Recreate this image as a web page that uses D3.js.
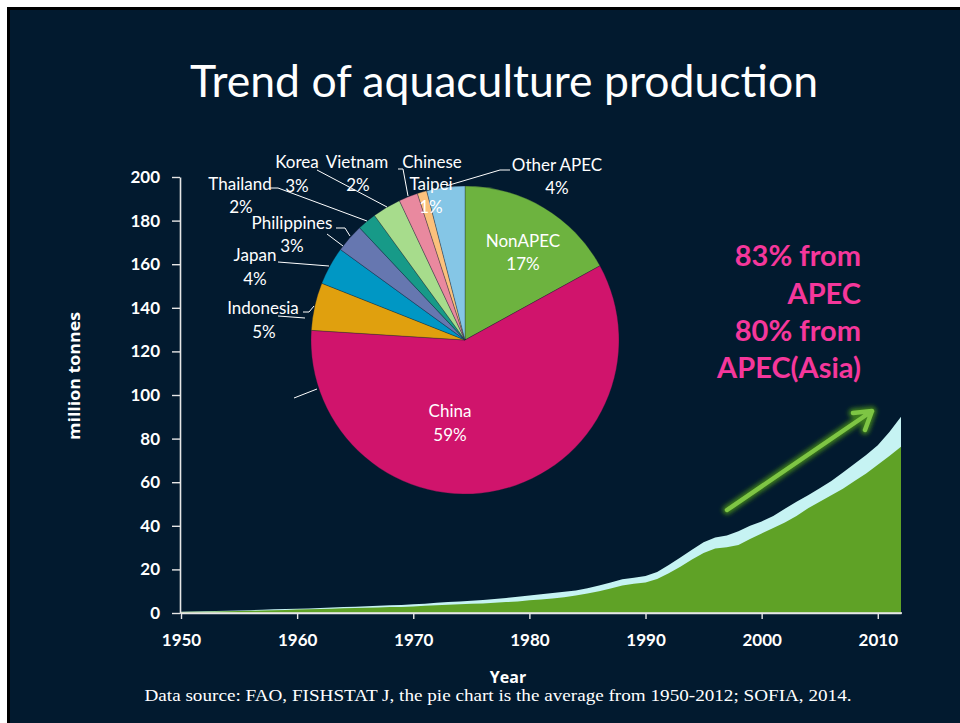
<!DOCTYPE html>
<html><head><meta charset="utf-8">
<script src="https://cdn.jsdelivr.net/npm/d3@7"></script>
<style>body{margin:0;background:#fff} svg{display:block}</style>
</head><body><svg id="c" width="960" height="723"></svg>
<script>
// ---------- DATA ----------
const years = d3.range(1950, 2013);
const totalProduction = [
  0.6, 0.7, 0.8, 0.9, 1.0, 1.2, 1.3, 1.5, 1.7, 1.85,
  2.0, 2.1, 2.3, 2.5, 2.7, 2.9, 3.1, 3.3, 3.5, 3.7,
  4.0, 4.3, 4.7, 5.0, 5.3, 5.6, 6.0, 6.4, 6.9, 7.4,
  8.0, 8.6, 9.2, 9.8, 10.3, 11.3, 12.6, 14.0, 15.5, 16.2,
  17.0, 18.8, 22.0, 25.5, 29.0, 32.5, 34.6, 35.5, 37.5, 40.0,
  42.0, 44.5, 47.8, 51.0, 54.0, 57.2, 60.5, 64.5, 68.5, 72.5,
  77.0, 83.0, 90.0
];
const apecProduction = [
  0.5, 0.55, 0.6, 0.7, 0.8, 0.9, 1.0, 1.1, 1.25, 1.4,
  1.65, 1.75, 1.85, 2.0, 2.15, 2.3, 2.45, 2.55, 2.7, 2.8,
  3.0, 3.3, 3.6, 3.8, 4.0, 4.2, 4.4, 4.7, 5.0, 5.3,
  5.8, 6.2, 6.7, 7.2, 8.0, 8.9, 10.0, 11.2, 12.6, 13.4,
  14.0, 15.6, 18.2, 21.2, 24.5, 27.5, 29.6, 30.2, 31.2, 34.0,
  36.5, 39.0, 41.5, 44.5, 48.0, 51.0, 54.0, 57.0, 60.5, 64.0,
  68.0, 72.0, 76.3
];
const yTicks = [0, 20, 40, 60, 80, 100, 120, 140, 160, 180, 200];
const xTicks = [1950, 1960, 1970, 1980, 1990, 2000, 2010];

const pieCategories = ["NonAPEC", "China", "Indonesia", "Japan", "Philippines", "Thailand", "Korea", "Vietnam", "Chinese Taipei", "Other APEC"];
const pieValues = [17, 59, 5, 4, 3, 2, 3, 2, 1, 4];
const pieColors = ["#6db33f", "#d0146c", "#e0a00e", "#0097c4", "#6677b0", "#179a88", "#a7dc8c", "#e9899f", "#fbc17c", "#85c6e6"];

const noteLines = ["83% from", "APEC", "80% from", "APEC(Asia)"];

// ---------- LAYOUT ----------
const svg = d3.select("#c");
svg.append("rect").attr("width", 960).attr("height", 723).attr("fill", "#ffffff");
svg.append("rect").attr("x", 7).attr("y", 7).attr("width", 953).attr("height", 716).attr("fill", "#000000");
svg.append("rect").attr("x", 10).attr("y", 10).attr("width", 950).attr("height", 713).attr("fill", "#021a2f");

svg.append("text").attr("x", 504).attr("y", 97).attr("text-anchor", "middle")
  .attr("font-family", "Lato, 'Open Sans', sans-serif").attr("font-size", 44)
  .attr("fill", "#ffffff").attr("textLength", 628).attr("lengthAdjust", "spacingAndGlyphs")
  .text("Trend of aquaculture production");

const x = d3.scaleLinear().domain([1950, 2012]).range([181, 901]);
const y = d3.scaleLinear().domain([0, 200]).range([613, 177]);

// areas
const totalArea = d3.area().x((d, i) => x(years[i])).y0(y(0)).y1(d => y(d));
svg.append("path").datum(totalProduction).attr("d", totalArea).attr("fill", "#c6f3f3");
svg.append("path").datum(apecProduction).attr("d", totalArea).attr("fill", "#5fa226");

// axes
const fontTick = "Lato, 'Open Sans', sans-serif";
const yAxis = svg.append("g").attr("transform", "translate(180,0)")
  .call(d3.axisLeft(y).tickValues(yTicks).tickSize(8).tickSizeOuter(0).tickPadding(12));
const xAxis = svg.append("g").attr("transform", "translate(0,613)")
  .call(d3.axisBottom(x).tickValues(xTicks).tickFormat(d3.format("d")).tickSize(6).tickSizeOuter(0).tickPadding(15));
[yAxis, xAxis].forEach(g => {
  g.selectAll("path.domain").attr("stroke", "#e6e6e6").attr("stroke-width", 1.6);
  g.selectAll(".tick line").attr("stroke", "#e6e6e6").attr("stroke-width", 1.4);
  g.selectAll(".tick text").attr("fill", "#ffffff").attr("font-family", fontTick)
    .attr("font-weight", "bold").attr("font-size", 17);
});
svg.append("line").attr("x1", 180).attr("x2", 902).attr("y1", 613).attr("y2", 613)
  .attr("stroke", "#e6e6e6").attr("stroke-width", 1.6);

// axis titles
svg.append("text").attr("transform", "translate(80,376) rotate(-90)").attr("text-anchor", "middle")
  .attr("font-family", "'Open Sans', sans-serif").attr("font-weight", "bold").attr("font-size", 16)
  .attr("fill", "#ffffff").attr("textLength", 128).attr("lengthAdjust", "spacingAndGlyphs")
  .text("million tonnes");
svg.append("text").attr("x", 508).attr("y", 683).attr("text-anchor", "middle")
  .attr("font-family", "'Open Sans', sans-serif").attr("font-weight", "bold").attr("font-size", 16)
  .attr("fill", "#ffffff").text("Year");
svg.append("text").attr("x", 498).attr("y", 701).attr("text-anchor", "middle")
  .attr("font-family", "'Liberation Serif', 'Times New Roman', serif").attr("font-size", 16)
  .attr("fill", "#ffffff").attr("textLength", 707).attr("lengthAdjust", "spacingAndGlyphs")
  .text("Data source: FAO, FISHSTAT J, the pie chart is the average from 1950-2012; SOFIA, 2014.");

// pie
const pieG = svg.append("g").attr("transform", "translate(465,340)");
const arcs = d3.pie().sort(null).value(d => d)(pieValues);
const arcGen = d3.arc().innerRadius(0).outerRadius(154);
pieG.selectAll("path.slice").data(arcs).join("path").attr("class", "slice")
  .attr("d", arcGen).attr("fill", (d, i) => pieColors[i])
  .attr("stroke", "rgba(20,30,50,0.45)").attr("stroke-width", 0.7);

// leader lines
const leaders = [
  [[510, 170], [500, 170], [446, 186]],
  [[398, 169], [403, 169], [408, 196]],
  [[317, 170], [387, 207]],
  [[270, 188], [278, 188], [367, 221]],
  [[336, 228], [345, 228], [350, 236]],
  [[327, 234], [343, 246]],
  [[278, 262], [329, 266]],
  [[278, 316], [305, 318]],
  [[303, 312], [309, 312], [314, 306]],
  [[294, 398], [317, 389]]
];
svg.selectAll("path.leader").data(leaders).join("path").attr("class", "leader")
  .attr("d", d => d3.line()(d)).attr("fill", "none").attr("stroke", "#ffffff").attr("stroke-width", 1);

// pie labels (text content from data, positions are layout)
const pieLabelFont = "Lato, 'Open Sans', sans-serif";
const labelLayout = {
  "NonAPEC": [[523, 247], [523, 270]],
  "China": [[450, 417], [450, 441]],
  "Indonesia": [[263, 314], [264, 338]],
  "Japan": [[255, 261], [255, 285]],
  "Philippines": [[292, 229], [292, 252]],
  "Thailand": [[240, 190], [241, 213]],
  "Korea": [[297, 168], [297, 192]],
  "Vietnam": [[357, 168], [358, 191]],
  "Chinese Taipei": [[432, 168], [431, 190], [431, 213]],
  "Other APEC": [[557, 171], [557, 194]]
};
pieCategories.forEach((cat, i) => {
  const pos = labelLayout[cat];
  const lines = cat === "Chinese Taipei" ? ["Chinese", "Taipei"] : [cat];
  lines.push(pieValues[i] + "%");
  lines.forEach((t, j) => {
    svg.append("text").attr("x", pos[j][0]).attr("y", pos[j][1]).attr("text-anchor", "middle")
      .attr("font-family", pieLabelFont).attr("font-size", 17).attr("fill", "#ffffff").text(t);
  });
});

// pink annotation
const noteY = [266, 303.5, 341, 378];
noteLines.forEach((t, i) => {
  svg.append("text").attr("x", 861).attr("y", noteY[i]).attr("text-anchor", "end")
    .attr("font-family", "Lato, 'Open Sans', sans-serif").attr("font-weight", "bold").attr("font-size", 29)
    .attr("fill", "#f5379b").text(t);
});

// green arrow with glow
const defs = svg.append("defs");
const f = defs.append("filter").attr("id", "glow").attr("x", "-20%").attr("y", "-20%").attr("width", "140%").attr("height", "140%");
f.append("feGaussianBlur").attr("stdDeviation", 2);
const arrowD = "M727,510 L872,411 M853,413 L872,411 L865,430";
svg.append("path").attr("d", arrowD).attr("fill", "none").attr("stroke", "#3e7d1c")
  .attr("stroke-width", 9).attr("stroke-linecap", "round").attr("stroke-linejoin", "round").attr("filter", "url(#glow)");
svg.append("path").attr("d", arrowD).attr("fill", "none").attr("stroke", "#7ec544")
  .attr("stroke-width", 4.5).attr("stroke-linecap", "round").attr("stroke-linejoin", "round");
</script>
</body></html>
